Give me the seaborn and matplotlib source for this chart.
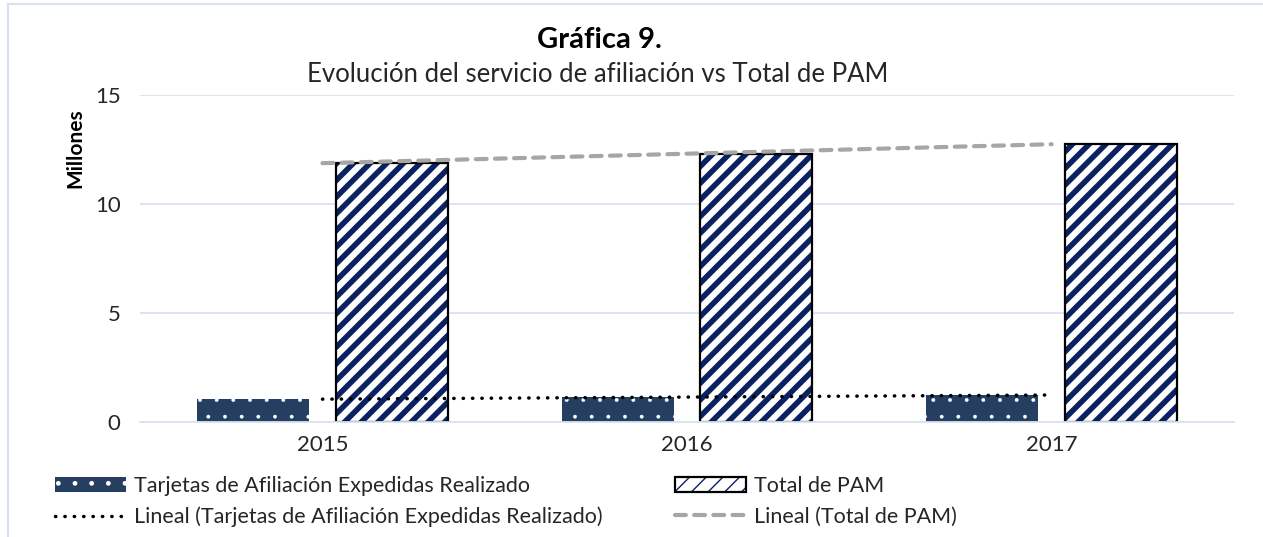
import numpy as np
import pandas as pd
import matplotlib.pyplot as plt
import seaborn as sns
from matplotlib.patches import Patch, Rectangle
from matplotlib.lines import Line2D

# data (millones)
years = ["2015", "2016", "2017"]
tarjetas = [1.05, 1.15, 1.24]
total_pam = [11.88, 12.30, 12.75]
series_names = ["Tarjetas de Afiliación Expedidas Realizado", "Total de PAM"]
trend_names = ["Lineal (Tarjetas de Afiliación Expedidas Realizado)", "Lineal (Total de PAM)"]
y_ticks = [0, 5, 10, 15]

DARK = "#243f60"
STRIPE = "#0b2161"
GRID = "#d9e2f3"
TXT = "#262626"
STRIPE_LW = 4.0
DOT_LW = 0.3

sns.set_theme(style="white")
plt.rcParams['font.family'] = ['Lato', 'DejaVu Sans']


def set_hatch_lw(p, lw):
    if hasattr(p, "set_hatch_linewidth"):
        p.set_hatch_linewidth(lw)
    else:
        p._hatch_linewidth = lw


df = pd.DataFrame({
    "year": years * 2,
    "serie": [series_names[0]] * len(years) + [series_names[1]] * len(years),
    "valor": tarjetas + total_pam,
})

fig = plt.figure(figsize=(12.63, 5.37), dpi=100)
ax = fig.add_axes([0.111, 0.214, 0.866, 0.609])

sns.barplot(data=df, x="year", y="valor", hue="serie", hue_order=series_names,
            palette=[DARK, "white"], saturation=1, width=0.76, gap=0.19,
            errorbar=None, legend=False, ax=ax, zorder=2)

dark_bars, striped_bars = ax.containers[0], ax.containers[1]
for p in dark_bars:
    p.set_facecolor(DARK)
    p.set_edgecolor("white")
    p.set_linewidth(0)
    p.set_hatch(".")
    set_hatch_lw(p, DOT_LW)
for p in striped_bars:
    p.set_facecolor("white")
    p.set_edgecolor(STRIPE)
    p.set_linewidth(0)
    p.set_hatch("//")
    set_hatch_lw(p, STRIPE_LW)
    ax.add_patch(Rectangle((p.get_x(), p.get_y()), p.get_width(), p.get_height(),
                           fill=False, edgecolor="black", lw=1.6, zorder=2.5))

# linear trend lines (Excel style)
x = np.arange(len(years))
m, b = np.polyfit(x, tarjetas, 1)
ax.plot(x, m * x + b, color="black", lw=2.5, linestyle=(0, (0.1, 2.6)),
        dash_capstyle="round", zorder=4)
m2, b2 = np.polyfit(x, total_pam, 1)
ax.plot(x, m2 * x + b2, color="#a6a6a6", lw=3, linestyle=(0, (2.6, 2.0)),
        dash_capstyle="round", zorder=4)

ax.set_xlim(-0.5, len(years) - 0.5)
ax.set_ylim(0, 15)
ax.set_yticks(y_ticks)
ax.yaxis.grid(True, color=GRID, lw=1.3)
ax.set_axisbelow(True)
for s in ["top", "right", "left"]:
    ax.spines[s].set_visible(False)
ax.spines["bottom"].set_color(GRID)
ax.spines["bottom"].set_linewidth(1.3)
ax.tick_params(length=0, labelsize=16, labelcolor=TXT, pad=9)
ax.tick_params(axis="y", pad=14)
ax.set_xlabel("")
ax.set_ylabel("")

fig.text(75 / 1263, 1 - 148 / 537, "Millones", rotation=90, ha="center", va="center",
         fontsize=15, fontweight="bold", color="black")
fig.text(0.475, 0.925, "Gráfica 9.", ha="center", va="center", fontsize=21,
         fontweight="bold", color="black")
fig.text(0.473, 0.862, "Evolución del servicio de afiliación vs Total de PAM",
         ha="center", va="center", fontsize=18.5, color=TXT)

# legend, two columns
h_dark = Patch(facecolor=DARK, edgecolor="white", lw=0, hatch=".")
set_hatch_lw(h_dark, DOT_LW)
h_str = Patch(facecolor="white", edgecolor=STRIPE, lw=0, hatch="//")
set_hatch_lw(h_str, STRIPE_LW)
h_str_box = Patch(facecolor="none", edgecolor="black", lw=1.6)
h_dot = Line2D([], [], color="black", lw=2.5, linestyle=(0, (0.1, 2.6)), dash_capstyle="round")
h_dash = Line2D([], [], color="#a6a6a6", lw=3, linestyle=(0, (2.6, 2.0)), dash_capstyle="round")

leg_kw = dict(frameon=False, fontsize=15.5, handlelength=3.3, handleheight=0.65,
              handletextpad=0.35, labelspacing=0.5, borderpad=0, borderaxespad=0,
              loc="upper left", labelcolor=TXT)
leg1 = fig.legend([h_dark, h_dot], [series_names[0], trend_names[0]],
                  bbox_to_anchor=(55 / 1263, 1 - 476 / 537), **leg_kw)
leg2 = fig.legend([(h_str, h_str_box), h_dash], [series_names[1], trend_names[1]],
                  bbox_to_anchor=(675 / 1263, 1 - 476 / 537), **leg_kw)

# light frame around the chart
fig.add_artist(Rectangle((8 / 1263, -0.1), 1.2, 1.1 - 4 / 537, transform=fig.transFigure,
                         fill=False, edgecolor=GRID, lw=1.5))

fig.savefig("out.png", dpi=100)
